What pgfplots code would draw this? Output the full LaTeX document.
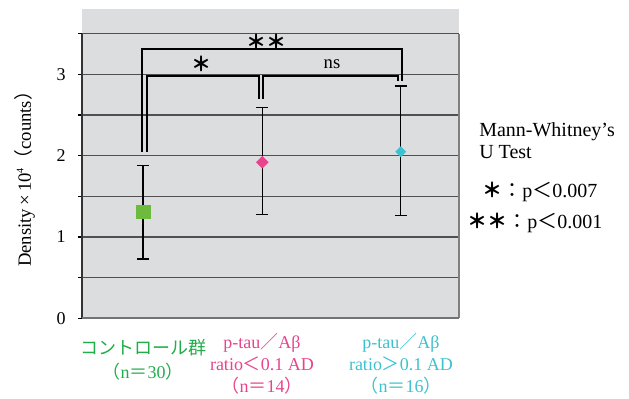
\documentclass[border=0pt]{standalone}
\usepackage{pgfplots}
\pgfplotsset{compat=1.18}
\usepackage{fontspec}
\setmainfont{Liberation Serif}
\newfontfamily\jp{Noto Sans CJK JP}
\newcommand\J[1]{{\jp #1}}
\definecolor{bg}{HTML}{DCDDDF}
\definecolor{cgreen}{HTML}{6CBB3C}
\definecolor{tgreen}{HTML}{22AD4B}
\definecolor{cpink}{HTML}{E8438D}
\definecolor{ccyan}{HTML}{3CC2CF}
\definecolor{gridc}{HTML}{505050}
\begin{document}
\begin{tikzpicture}[x=0.75pt,y=0.75pt]
\path (0,0) rectangle (629,394);
\begin{axis}[
  at={(61.275pt,56.775pt)}, anchor=south west,
  scale only axis, width=283.2pt, height=231.975pt,
  xmin=81.7, xmax=459.3, ymin=0, ymax=3.804,
  axis line style={draw=none},
  axis background/.style={fill=bg},
  xtick=\empty,
  ytick={0,1,2,3}, minor ytick={0.5,1.5,2.5,3.5},
  ymajorgrids, yminorgrids,
  major grid style={gridc, line width=0.9pt},
  minor grid style={gridc, line width=0.9pt},
  ytick pos=left, tick align=outside,
  major tick length=2.5pt, minor tick length=2.5pt,
  tick style={black, line width=0.9pt},
  /pgf/number format/assume math mode=true,
  yticklabel style={font=\fontsize{13.5}{16}\selectfont, xshift=-6pt},
  clip=false,
  every error bar/.style={black, line width=1.1pt},
  error bars/error mark options={rotate=90, black, line width=1.1pt, mark size=4.5pt},
]
% borders
\draw[black!80, line width=1.4pt] (axis cs:81.7,0) -- (axis cs:81.7,3.5);
\draw[gray, line width=1.5pt] (axis cs:459.3,0) -- (axis cs:459.3,3.5);
\draw[gray!90!black, line width=1.6pt] (axis cs:81.7,0) -- (axis cs:459.3,0);
% brackets
\addplot[black, line width=1.5pt] coordinates {(141.7,2.049) (141.7,3.309) (402.3,3.309) (402.3,2.919)};
\addplot[black, line width=1.5pt] coordinates {(146.7,2.049) (146.7,2.980) (259.3,2.980) (259.3,2.701)};
\addplot[black, line width=1.5pt] coordinates {(263.3,2.701) (263.3,2.980) (397.7,2.980) (397.7,2.919)};
% data with error bars
\addplot[only marks, mark=none, error bars/.cd, y dir=both, y explicit]
  coordinates {(143,1.311) += (0,0.566) -= (0,0.582)
               (262.3,1.919) += (0,0.671) -= (0,0.645)
               (400.7,2.049) += (0,0.808) -= (0,0.787)};
\addplot[only marks, mark=square*, mark size=5.1pt, color=cgreen]
  coordinates {(143,1.311)};
\addplot[only marks, mark=square*, mark size=3.1pt, color=cpink, mark options={rotate=45}]
  coordinates {(262.3,1.919)};
\addplot[only marks, mark=square*, mark size=2.65pt, color=ccyan, mark options={rotate=45}]
  coordinates {(400.7,2.049)};
\end{axis}
% annotations
\node[font=\fontsize{15}{18}\selectfont\jp\bfseries] at (266,352) {＊＊};
\node[font=\fontsize{15}{18}\selectfont\jp\bfseries] at (201,330) {＊};
\node[font=\fontsize{14}{17}\selectfont] at (332,330) {ns};
\node[rotate=90, font=\fontsize{14}{17}\selectfont] at (25,219.5) {Density\,×\,10\raisebox{0.9ex}{\fontsize{7.5}{8}\selectfont 4}\J{（}counts\J{）}};
\node[anchor=west, font=\fontsize{15}{18}\selectfont, inner sep=0pt] at (479,262) {Mann-Whitney’s};
\node[anchor=west, font=\fontsize{15}{18}\selectfont, inner sep=0pt] at (479,242) {U Test};
\node[anchor=west, font=\fontsize{15}{18}\selectfont, inner sep=0pt] at (482,202) {{\jp\bfseries ＊}\J{：}p\J{＜}0.007};
\node[anchor=west, font=\fontsize{15}{18}\selectfont, inner sep=0pt] at (467,171) {{\jp\bfseries ＊＊}\J{：}p\J{＜}0.001};
% x labels
\node[align=center, text=tgreen, font=\fontsize{13.5}{18}\selectfont] at (143,34) {\J{コントロール群}\\\J{（}n\J{＝}30\J{）}};
\node[align=center, text=cpink, font=\fontsize{13.5}{16.5}\selectfont] at (262,30) {p-tau\J{／}Aβ\\ratio\J{＜}0.1 AD\\\J{（}n\J{＝}14\J{）}};
\node[align=center, text=ccyan, font=\fontsize{13.5}{16.5}\selectfont] at (401,30) {p-tau\J{／}Aβ\\ratio\J{＞}0.1 AD\\\J{（}n\J{＝}16\J{）}};
\end{tikzpicture}
\end{document}
